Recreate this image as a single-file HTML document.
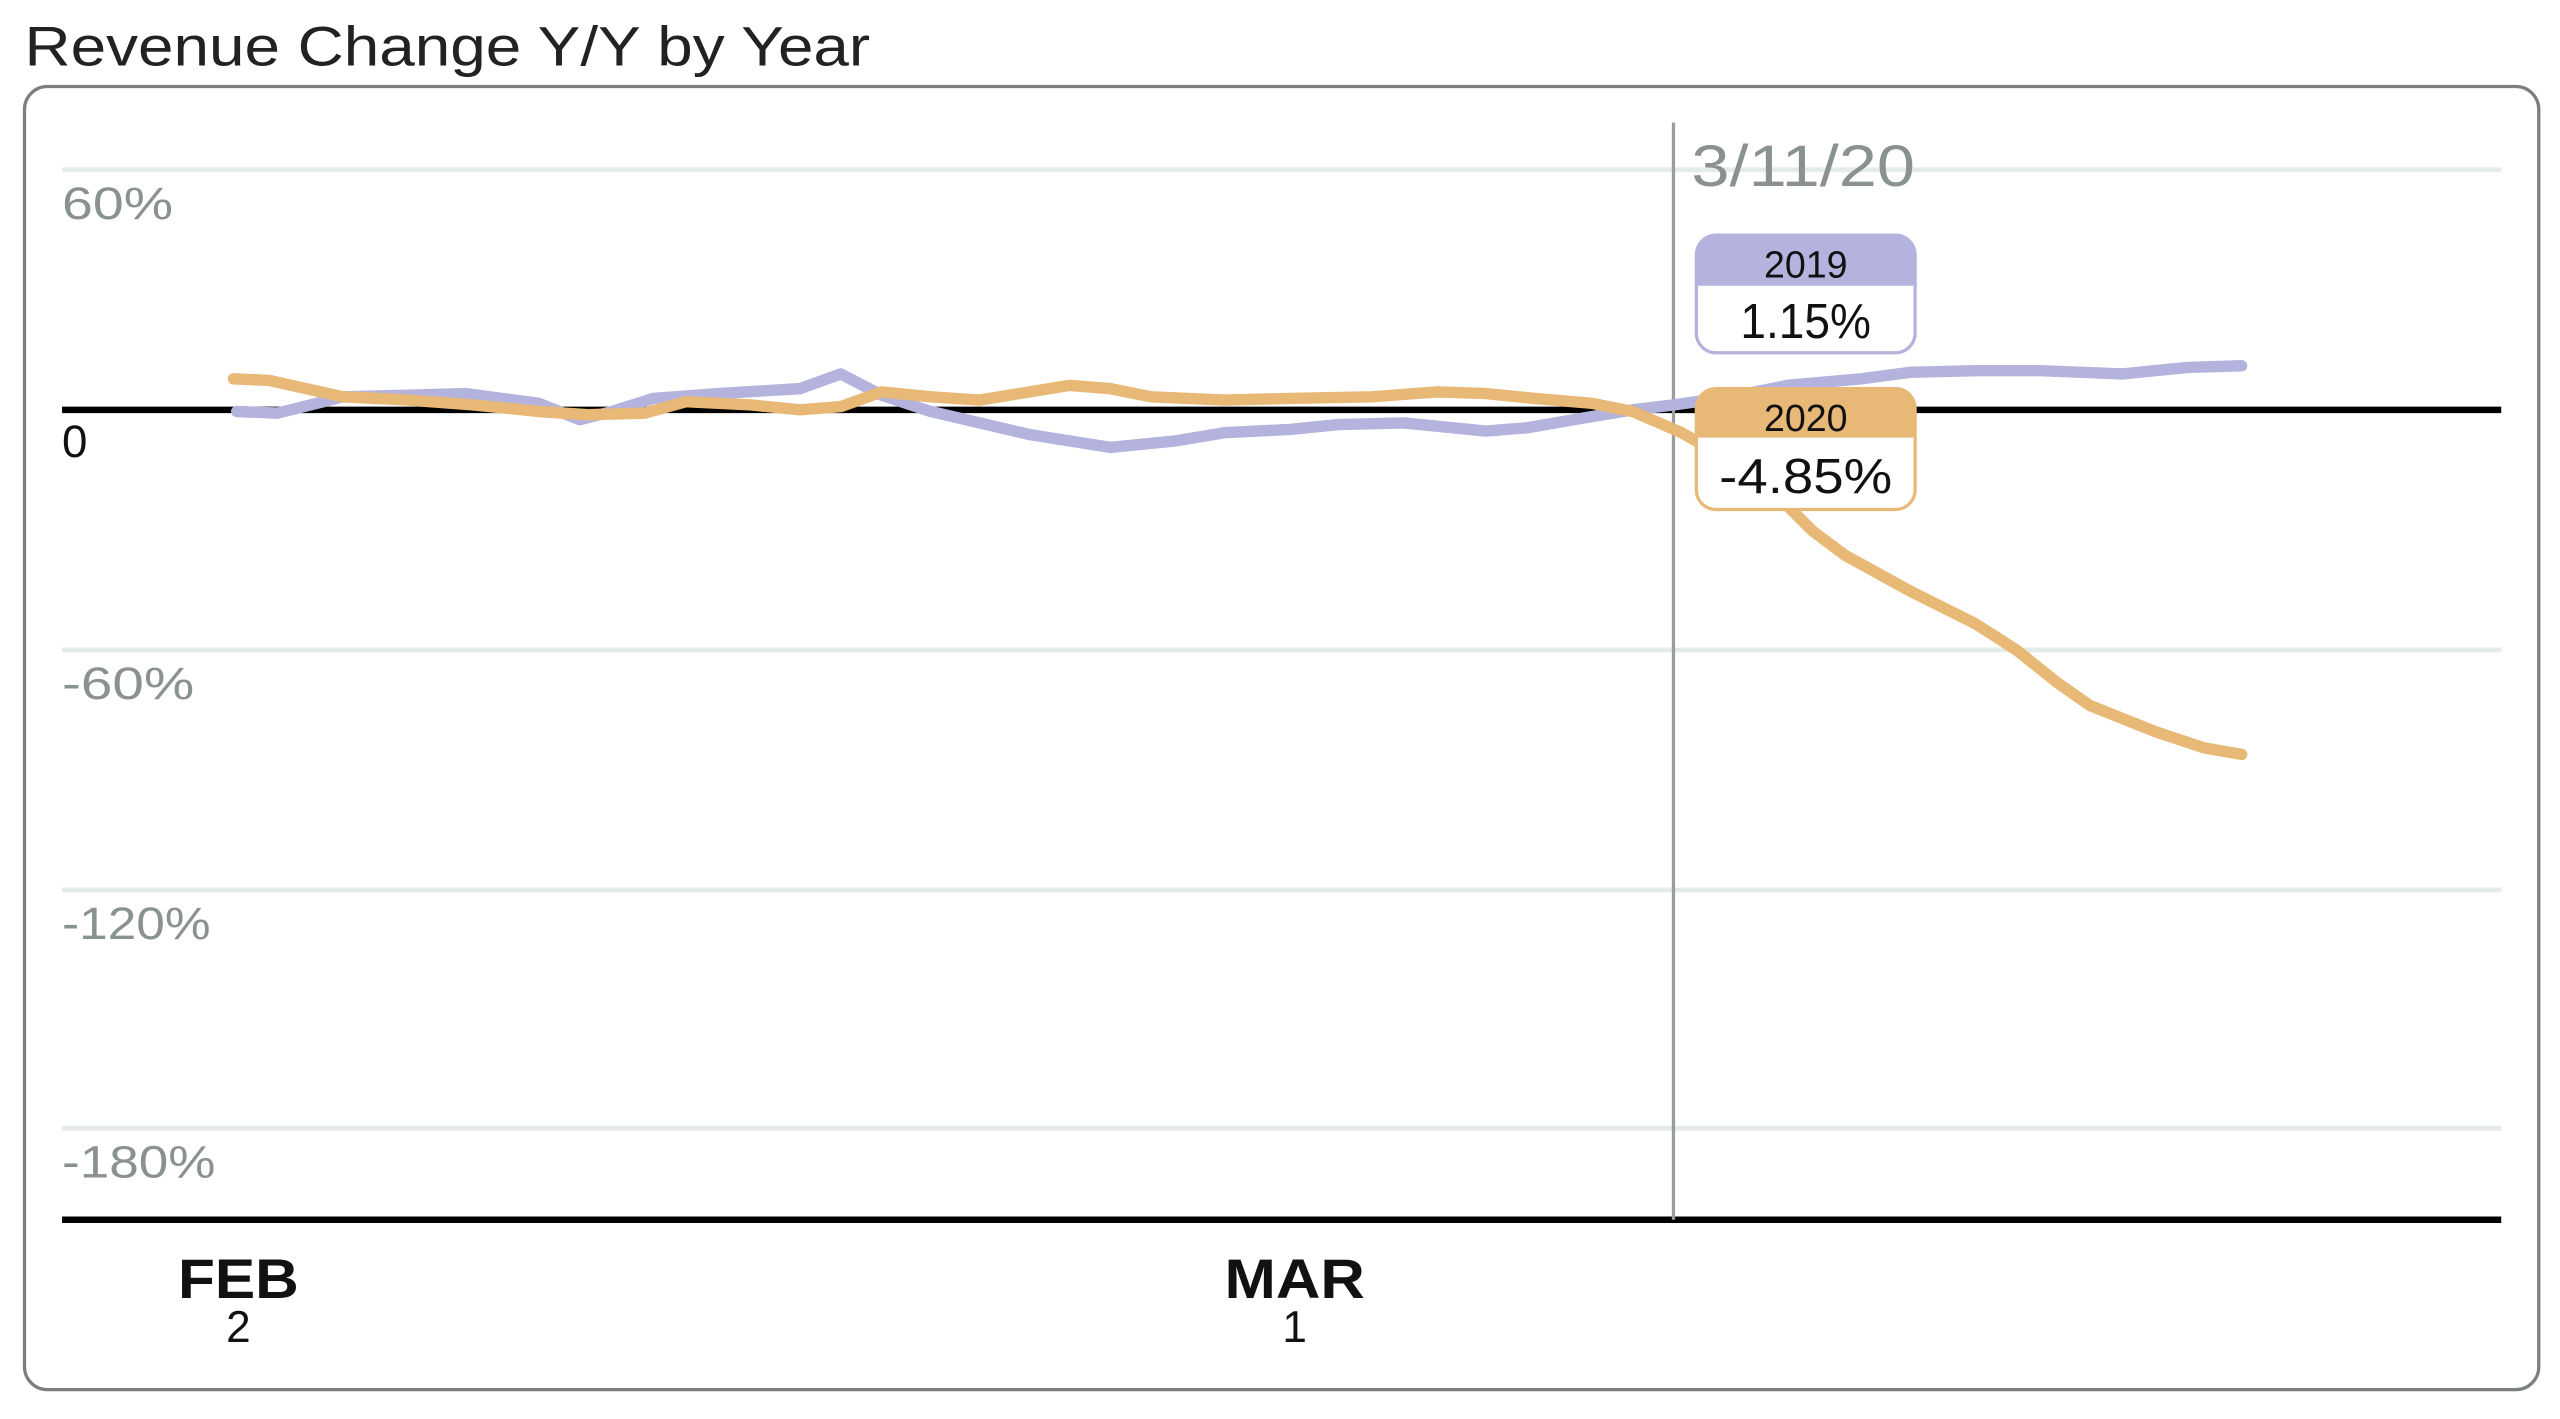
<!DOCTYPE html>
<html><head><meta charset="utf-8"><style>
html,body{margin:0;padding:0;background:#fff;}
svg{display:block;}
text{font-family:"Liberation Sans",sans-serif;}
</style></head><body>
<svg width="2560" height="1419" viewBox="0 0 1568 869" preserveAspectRatio="none">
<text x="15" y="40" font-size="34" fill="#222" textLength="518" lengthAdjust="spacingAndGlyphs">Revenue Change Y/Y by Year</text>
<rect x="15" y="53" width="1540" height="798" rx="14" fill="#fff" stroke="#7a7f80" stroke-width="2"/>
<g stroke="#e4ebe9" stroke-width="3">
<line x1="38" y1="104" x2="1532" y2="104"/>
<line x1="38" y1="398" x2="1532" y2="398"/>
<line x1="38" y1="545" x2="1532" y2="545"/>
<line x1="38" y1="691" x2="1532" y2="691"/>
</g>
<line x1="38" y1="251" x2="1532" y2="251" stroke="#000" stroke-width="4"/>
<line x1="38" y1="747" x2="1532" y2="747" stroke="#000" stroke-width="4"/>
<g font-size="28" fill="#8a9191">
<text x="38" y="134" textLength="68" lengthAdjust="spacingAndGlyphs">60%</text>
<text x="38" y="280" fill="#111">0</text>
<text x="38" y="428" textLength="81" lengthAdjust="spacingAndGlyphs">-60%</text>
<text x="38" y="575" textLength="91" lengthAdjust="spacingAndGlyphs">-120%</text>
<text x="38" y="721" textLength="94" lengthAdjust="spacingAndGlyphs">-180%</text>
</g>
<line x1="1025" y1="75" x2="1025" y2="747" stroke="#9a9d9d" stroke-width="2"/>
<text x="1036" y="114" font-size="36" fill="#8a9191" textLength="137" lengthAdjust="spacingAndGlyphs">3/11/20</text>
<polyline fill="none" stroke="#b3b3de" stroke-width="7" stroke-linejoin="round" stroke-linecap="round" points="145,252 170,253 210,243 250,242 285,241 330,247 355,257 375,252 400,244 440,241 490,238 515,229 540,242 570,252 630,266 680,274 720,270 750,265 790,263 820,260 860,259 910,264 935,262 970,256 1000,251 1025,248 1060,243 1095,236 1140,232 1170,228 1210,227 1250,227 1300,229 1340,225 1373,224"/>
<polyline fill="none" stroke="#e8b877" stroke-width="7" stroke-linejoin="round" stroke-linecap="round" points="143,232 165,233 210,243 250,245 290,248 330,252 360,254 395,253 420,246 460,248 490,251 515,249 540,240 570,243 600,245 655,236 680,238 705,243 750,245 790,244 840,243 880,240 910,241 940,244 975,247 1000,252 1030,265 1060,282 1090,305 1110,325 1130,340 1170,362 1210,382 1235,398 1260,418 1280,432 1320,448 1350,458 1373,462"/>
<rect x="1039" y="144" width="134" height="72" rx="12" fill="#fff" stroke="#b3b3de" stroke-width="2"/>
<path d="M1039,175 V156 a12,12 0 0 1 12,-12 H1161 a12,12 0 0 1 12,12 V175 Z" fill="#b3b3de"/>
<text x="1106" y="170" font-size="23" text-anchor="middle" fill="#111">2019</text>
<text x="1106" y="207" font-size="30" text-anchor="middle" fill="#111" textLength="80" lengthAdjust="spacingAndGlyphs">1.15%</text>
<rect x="1039" y="238" width="134" height="74" rx="12" fill="#fff" stroke="#e8b877" stroke-width="2"/>
<path d="M1039,268 V250 a12,12 0 0 1 12,-12 H1161 a12,12 0 0 1 12,12 V268 Z" fill="#e8b877"/>
<text x="1106" y="264" font-size="23" text-anchor="middle" fill="#111">2020</text>
<text x="1106" y="302" font-size="30" text-anchor="middle" fill="#111" textLength="106" lengthAdjust="spacingAndGlyphs">-4.85%</text>
<text x="146" y="795" font-size="34" font-weight="bold" text-anchor="middle" fill="#111" textLength="74" lengthAdjust="spacingAndGlyphs">FEB</text>
<text x="146" y="822" font-size="27" text-anchor="middle" fill="#111">2</text>
<text x="793" y="795" font-size="34" font-weight="bold" text-anchor="middle" fill="#111" textLength="86" lengthAdjust="spacingAndGlyphs">MAR</text>
<text x="793" y="822" font-size="27" text-anchor="middle" fill="#111">1</text>
</svg>
</body></html>
